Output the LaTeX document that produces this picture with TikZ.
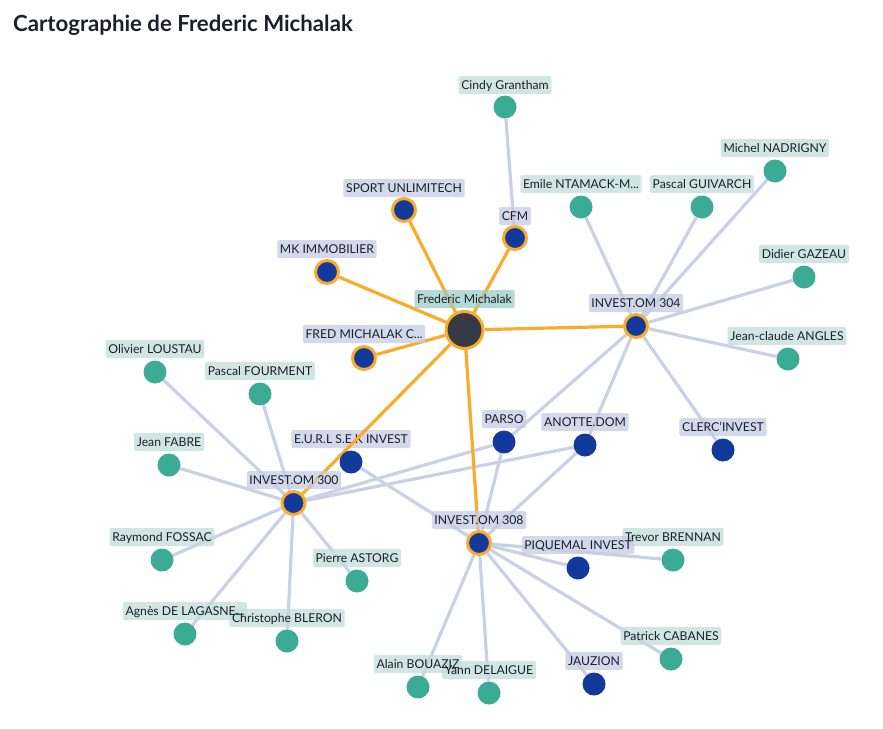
\documentclass[tikz,border=0pt]{standalone}
\usepackage{fontspec}
\setmainfont{Lato}
\definecolor{edgegrey}{HTML}{C9D1E4}
\definecolor{edgeorange}{HTML}{FBAB2C}
\definecolor{gnode}{HTML}{3BAB95}
\definecolor{bnode}{HTML}{13399B}
\definecolor{dnode}{HTML}{363A45}
\definecolor{glabel}{HTML}{BFDED8}
\definecolor{blabel}{HTML}{C4CCE3}
\definecolor{mlabel}{HTML}{9CCCC7}
\definecolor{txt}{HTML}{1C1F2B}
\pgfdeclarelayer{low}
\pgfdeclarelayer{lowtext}
\pgfdeclarelayer{edges}
\pgfdeclarelayer{boxes}
\pgfsetlayers{low,lowtext,edges,boxes,main}
\tikzset{
  x=1pt,y=-1pt,
  greennode/.style={circle,inner sep=0,minimum size=23pt,fill=gnode},
  bluenode/.style={circle,inner sep=0,minimum size=23pt,fill=bnode},
  hubnode/.style={circle,inner sep=0,minimum size=23pt,fill=bnode,draw=edgeorange,line width=3pt},
  mainnode/.style={circle,inner sep=0,minimum size=37pt,fill=dnode,draw=edgeorange,line width=3pt},
  lab/.style={font=\fontsize{12.2}{14}\selectfont,text=txt,inner ysep=3pt,inner xsep=2.7pt,outer sep=0,text height=10pt,text depth=2pt},
  gbox/.style={fill=glabel,fill opacity=0.75,rounded corners=1.5pt},
  bbox/.style={fill=blabel,fill opacity=0.75,rounded corners=1.5pt},
  mbox/.style={fill=mlabel,fill opacity=0.75,rounded corners=1.5pt},
  gedge/.style={draw=edgegrey,line width=3.2pt},
  oedge/.style={draw=edgeorange,line width=3.2pt},
}
\begin{document}
\begin{tikzpicture}
\useasboundingbox (0,0) rectangle (883,728);
\node[anchor=west,font=\fontsize{22.2}{26}\bfseries\selectfont,text=txt,inner sep=0] (title) at (13,25.5) {Cartographie de Frederic Michalak};
% nodes
\node[greennode] (cindy) at (505,107) {};
\node[greennode] (michel) at (775,171) {};
\node[greennode] (emile) at (581,207) {};
\node[greennode] (pascalg) at (702,207) {};
\node[greennode] (didier) at (804,277) {};
\node[greennode] (jeanc) at (788,359) {};
\node[hubnode] (sport) at (404,210) {};
\node[hubnode] (cfm) at (515,238) {};
\node[hubnode] (mk) at (327,272) {};
\node[mainnode] (main) at (464.5,330) {};
\node[hubnode] (i304) at (636,326) {};
\node[hubnode] (fred) at (364,358) {};
\node[greennode] (olivier) at (155,372) {};
\node[greennode] (pascalf) at (260,394) {};
\node[bluenode] (parso) at (504,442) {};
\node[bluenode] (anotte) at (585,445) {};
\node[bluenode] (clerc) at (723,450) {};
\node[bluenode] (eurl) at (351,462) {};
\node[greennode] (jeanf) at (169,465) {};
\node[hubnode] (i300) at (293.5,503) {};
\node[hubnode] (i308) at (479,543) {};
\node[bluenode] (piq) at (578,568) {};
\node[greennode] (trevor) at (673,560) {};
\node[greennode] (raymond) at (162,560) {};
\node[greennode] (pierre) at (357,581) {};
\node[greennode] (agnes) at (185,634) {};
\node[greennode] (christophe) at (287,641) {};
\node[greennode] (patrick) at (671,659) {};
\node[greennode] (alain) at (418,687) {};
\node[greennode] (yann) at (489,693) {};
\node[bluenode] (jauzion) at (594,684) {};
% edges
\begin{pgfonlayer}{edges}
\draw[gedge] (cfm) -- (cindy);
\draw[gedge] (i304) -- (michel);
\draw[gedge] (i304) -- (emile);
\draw[gedge] (i304) -- (pascalg);
\draw[gedge] (i304) -- (didier);
\draw[gedge] (i304) -- (jeanc);
\draw[gedge] (i304) -- (clerc);
\draw[gedge] (i304) -- (anotte);
\draw[gedge] (i304) -- (parso);
\draw[gedge] (i300) -- (olivier);
\draw[gedge] (i300) -- (pascalf);
\draw[gedge] (i300) -- (jeanf);
\draw[gedge] (i300) -- (raymond);
\draw[gedge] (i300) -- (agnes);
\draw[gedge] (i300) -- (christophe);
\draw[gedge] (i300) -- (pierre);
\draw[gedge] (i300) -- (parso);
\draw[gedge] (i300) -- (anotte);
\draw[gedge] (i308) -- (eurl);
\draw[gedge] (i308) -- (parso);
\draw[gedge] (i308) -- (anotte);
\draw[gedge] (i308) -- (piq);
\draw[gedge] (i308) -- (trevor);
\draw[gedge] (i308) -- (patrick);
\draw[gedge] (i308) -- (jauzion);
\draw[gedge] (i308) -- (yann);
\draw[gedge] (i308) -- (alain);
\draw[oedge] (main) -- (sport);
\draw[oedge] (main) -- (cfm);
\draw[oedge] (main) -- (mk);
\draw[oedge] (main) -- (fred);
\draw[oedge] (main) -- (i304);
\draw[oedge] (main) -- (i300);
\draw[oedge] (main) -- (i308);
\end{pgfonlayer}
% labels
\node[lab] (lcindy) at (505,85) {Cindy Grantham};
\node[lab] (lmichel) at (775,148) {Michel NADRIGNY};
\node[lab] (lemile) at (581,184) {Emile NTAMACK-M...};
\node[lab] (lpascalg) at (702,184) {Pascal GUIVARCH};
\node[lab] (ldidier) at (804,254) {Didier GAZEAU};
\node[lab] (ljeanc) at (787,336) {Jean-claude ANGLES};
\node[lab] (lsport) at (404,188) {SPORT UNLIMITECH};
\node[lab] (lcfm) at (515,216) {CFM};
\node[lab] (lmk) at (327,249) {MK IMMOBILIER};
\node[lab] (lmain) at (464.5,299) {Frederic Michalak};
\node[lab] (li304) at (636,303) {INVEST.OM 304};
\node[lab] (lfred) at (364,334) {FRED MICHALAK C...};
\node[lab] (lolivier) at (155,349) {Olivier LOUSTAU};
\node[lab] (lpascalf) at (260,371) {Pascal FOURMENT};
\node[lab] (lparso) at (504,419) {PARSO};
\node[lab] (lanotte) at (585,422) {ANOTTE.DOM};
\node[lab] (lclerc) at (723,427) {CLERC'INVEST};
\begin{pgfonlayer}{lowtext}
\node[lab] (leurl) at (351,439) {E.U.R.L S.E.K INVEST};
\end{pgfonlayer}
\begin{pgfonlayer}{low}
\fill[bbox] (leurl.south west) rectangle (leurl.north east);
\end{pgfonlayer}
\node[lab] (ljeanf) at (169,442) {Jean FABRE};
\node[lab] (li300) at (294,480) {INVEST.OM 300};
\node[lab] (li308) at (479,520) {INVEST.OM 308};
\node[lab] (lpiq) at (578,545) {PIQUEMAL INVEST};
\node[lab] (ltrevor) at (673,537) {Trevor BRENNAN};
\node[lab] (lraymond) at (162,537) {Raymond FOSSAC};
\node[lab] (lpierre) at (357,558) {Pierre ASTORG};
\node[lab] (lagnes) at (185,611) {Agnès DE LAGASNE...};
\node[lab] (lchristophe) at (287,618) {Christophe BLERON};
\node[lab] (lpatrick) at (671,636) {Patrick CABANES};
\node[lab] (lalain) at (418,664) {Alain BOUAZIZ};
\node[lab] (lyann) at (489,670) {Yann DELAIGUE};
\node[lab] (ljauzion) at (594,661) {JAUZION};
% label backgrounds, under all label texts
\begin{pgfonlayer}{boxes}
\foreach \n in {lcindy,lmichel,lemile,lpascalg,ldidier,ljeanc,lolivier,lpascalf,ljeanf,ltrevor,lraymond,lpierre,lagnes,lchristophe,lpatrick,lalain,lyann}
  \fill[gbox] (\n.south west) rectangle (\n.north east);
\foreach \n in {lsport,lcfm,lmk,li304,lfred,lparso,lanotte,lclerc,li300,li308,lpiq,ljauzion}
  \fill[bbox] (\n.south west) rectangle (\n.north east);
\fill[mbox] (lmain.south west) rectangle (lmain.north east);
\end{pgfonlayer}
\end{tikzpicture}
\end{document}
